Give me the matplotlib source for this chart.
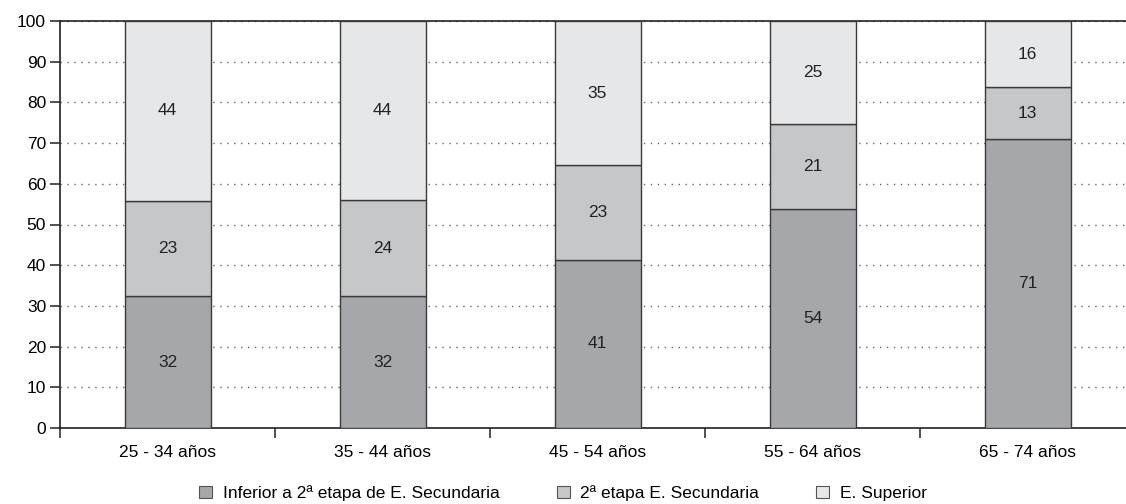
import numpy as np
import matplotlib.pyplot as plt
from matplotlib.patches import Patch

plt.rcParams['font.family'] = ['Liberation Sans', 'DejaVu Sans']

# data
categories = ['25 - 34 años', '35 - 44 años', '45 - 54 años', '55 - 64 años', '65 - 74 años']
inferior   = [32.4, 32.4, 41.4, 53.9, 70.9]
segunda    = [23.4, 23.6, 23.2, 20.7, 12.8]
superior   = [44.2, 44.0, 35.4, 25.4, 16.3]
series_names = ['Inferior a 2ª etapa de E. Secundaria', '2ª etapa E. Secundaria', 'E. Superior']
colors = ['#a6a7aa', '#c6c7c9', '#e6e7e8']

fig = plt.figure(figsize=(11.26, 5.04), dpi=100)
ax = fig.add_axes([60 / 1126, 76 / 504, 1075 / 1126, 407 / 504])

x = np.arange(len(categories))
bottom = np.zeros(len(categories))
for vals, col in zip([inferior, segunda, superior], colors):
    bars = ax.bar(x, vals, width=0.4, bottom=bottom, color=col,
                  edgecolor='#3a3a3a', linewidth=1.0, zorder=3)
    for b, v, bt in zip(bars, vals, bottom):
        ax.text(b.get_x() + b.get_width() / 2, bt + v / 2, f'{v:.0f}',
                ha='center', va='center', fontsize=12.5, color='#222222', zorder=4)
    bottom += np.array(vals)

ax.set_xlim(-0.5, len(categories) - 0.5)
ax.set_ylim(0, 100)
ax.set_yticks(range(0, 101, 10))
ax.yaxis.grid(True, linestyle=(0, (1, 4)), color='#666666', linewidth=1.0, zorder=0)
ax.set_axisbelow(True)

ax.set_xticks(x)
ax.set_xticklabels(categories, fontsize=12.5)
ax.set_xticks(np.arange(-0.5, len(categories)), minor=True)
ax.tick_params(axis='x', which='major', length=0, pad=12)
ax.tick_params(axis='x', which='minor', length=7, width=1.2, color='#333333')
ax.tick_params(axis='y', length=7, width=1.2, color='#333333', labelsize=12.5, pad=3)

for s in ['left', 'top', 'bottom']:
    ax.spines[s].set_color('#222222')
    ax.spines[s].set_linewidth(1.2)
ax.spines['right'].set_visible(False)

handles = [Patch(facecolor=c, edgecolor='#555555', linewidth=0.8) for c in colors]
fig.legend(handles, series_names, loc='lower center', bbox_to_anchor=(0.5, -0.025),
           ncol=3, frameon=False, fontsize=12.5, handlelength=0.75, handleheight=0.75,
           columnspacing=3.3, handletextpad=0.6)

fig.savefig('out.png', dpi=100)
